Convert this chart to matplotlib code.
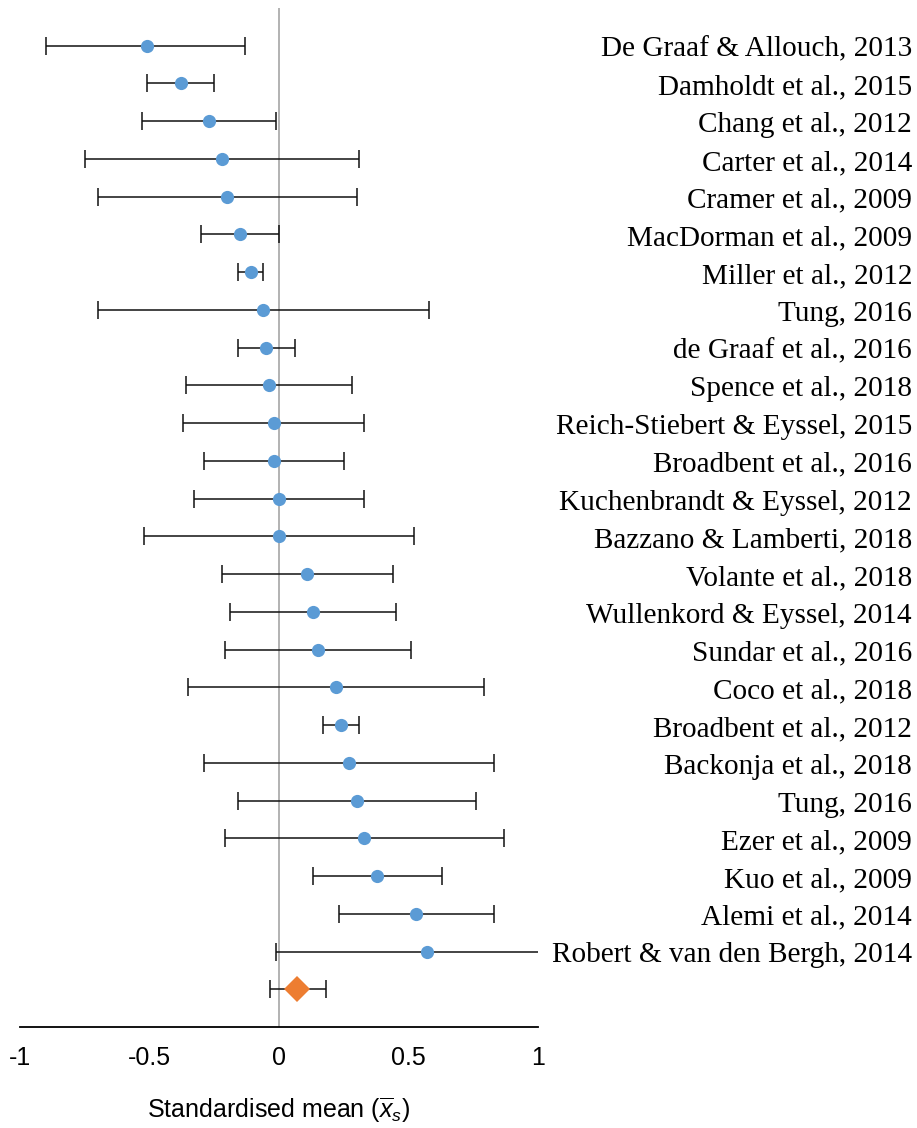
import matplotlib
matplotlib.use("Agg")
import matplotlib.pyplot as plt
import matplotlib.transforms as mtransforms

# Study-level standardised means with 95% confidence limits
studies = [
    "De Graaf & Allouch, 2013", "Damholdt et al., 2015", "Chang et al., 2012",
    "Carter et al., 2014", "Cramer et al., 2009", "MacDorman et al., 2009",
    "Miller et al., 2012", "Tung, 2016", "de Graaf et al., 2016",
    "Spence et al., 2018", "Reich-Stiebert & Eyssel, 2015", "Broadbent et al., 2016",
    "Kuchenbrandt & Eyssel, 2012", "Bazzano & Lamberti, 2018", "Volante et al., 2018",
    "Wullenkord & Eyssel, 2014", "Sundar et al., 2016", "Coco et al., 2018",
    "Broadbent et al., 2012", "Backonja et al., 2018", "Tung, 2016",
    "Ezer et al., 2009", "Kuo et al., 2009", "Alemi et al., 2014",
    "Robert & van den Bergh, 2014",
]
means = [-0.51, -0.38, -0.27, -0.22, -0.20, -0.15, -0.11, -0.06, -0.05,
         -0.04, -0.02, -0.02, 0.00, 0.00, 0.11, 0.13, 0.15, 0.22,
         0.24, 0.27, 0.30, 0.33, 0.38, 0.53, 0.57]
lower = [-0.90, -0.51, -0.53, -0.75, -0.70, -0.30, -0.16, -0.70, -0.16,
         -0.36, -0.37, -0.29, -0.33, -0.52, -0.22, -0.19, -0.21, -0.35,
         0.17, -0.29, -0.16, -0.21, 0.13, 0.23, -0.01]
upper = [-0.13, -0.25, -0.01, 0.31, 0.30, 0.00, -0.06, 0.58, 0.06,
         0.28, 0.33, 0.25, 0.33, 0.52, 0.44, 0.45, 0.51, 0.79,
         0.31, 0.83, 0.76, 0.87, 0.63, 0.83, 1.15]

# Pooled estimate
pooled_mean = 0.07
pooled_lower = -0.035
pooled_upper = 0.18

xticks = [-1, -0.5, 0, 0.5, 1]
xtick_labels = ["-1", "-0.5", "0", "0.5", "1"]

plt.rcParams["mathtext.fontset"] = "custom"
plt.rcParams["mathtext.rm"] = "Liberation Sans"
plt.rcParams["mathtext.it"] = "Liberation Sans:italic"

fig = plt.figure(figsize=(9.17, 11.28), dpi=100)
ax = fig.add_axes([20 / 917, (1128 - 1027) / 1128, 518 / 917, 1019 / 1128])

rows = list(range(1, len(studies) + 1))
pooled_row = len(studies) + 1

ax.axvline(0, color="#ADADAD", lw=1.3, zorder=1)

xerr = [[m - lo for m, lo in zip(means, lower)], [hi - m for m, hi in zip(means, upper)]]
ax.errorbar(means, rows, xerr=xerr, fmt="none", ecolor="#111111", elinewidth=1.1,
            capsize=6.5, capthick=1.1, zorder=2)
ax.plot(means, rows, "o", color="#5B9BD5", markersize=9.5, markeredgewidth=0, zorder=3)

ax.errorbar([pooled_mean], [pooled_row],
            xerr=[[pooled_mean - pooled_lower], [pooled_upper - pooled_mean]],
            fmt="none", ecolor="#111111", elinewidth=1.1, capsize=6.5, capthick=1.1, zorder=2)
ax.plot([pooled_mean], [pooled_row], "D", color="#ED7D31", markersize=13,
        markeredgewidth=0, zorder=3)

ax.set_xlim(-1, 1)
ax.set_ylim(pooled_row + 1, 0)

for side in ("top", "right", "left"):
    ax.spines[side].set_visible(False)
ax.spines["bottom"].set_color("black")
ax.spines["bottom"].set_linewidth(1.3)
ax.set_yticks([])
ax.set_xticks(xticks)
ax.set_xticklabels(xtick_labels, fontfamily="Liberation Sans", fontsize=18)
ax.tick_params(axis="x", length=0, pad=13.5)
ax.set_xlabel(r"Standardised mean ($\overline{x}_s$)", fontfamily="Liberation Sans",
              fontsize=18, labelpad=19)

# Study names, right-aligned beside the plotting area, baseline just below each row
trans = mtransforms.blended_transform_factory(fig.transFigure, ax.transData)
for r, name in zip(rows, studies):
    ax.text(912 / 917, r + 0.29, name, transform=trans, ha="right", va="baseline",
            fontfamily="Liberation Serif", fontsize=21.1, clip_on=False)

fig.savefig("out.png", dpi=100)
